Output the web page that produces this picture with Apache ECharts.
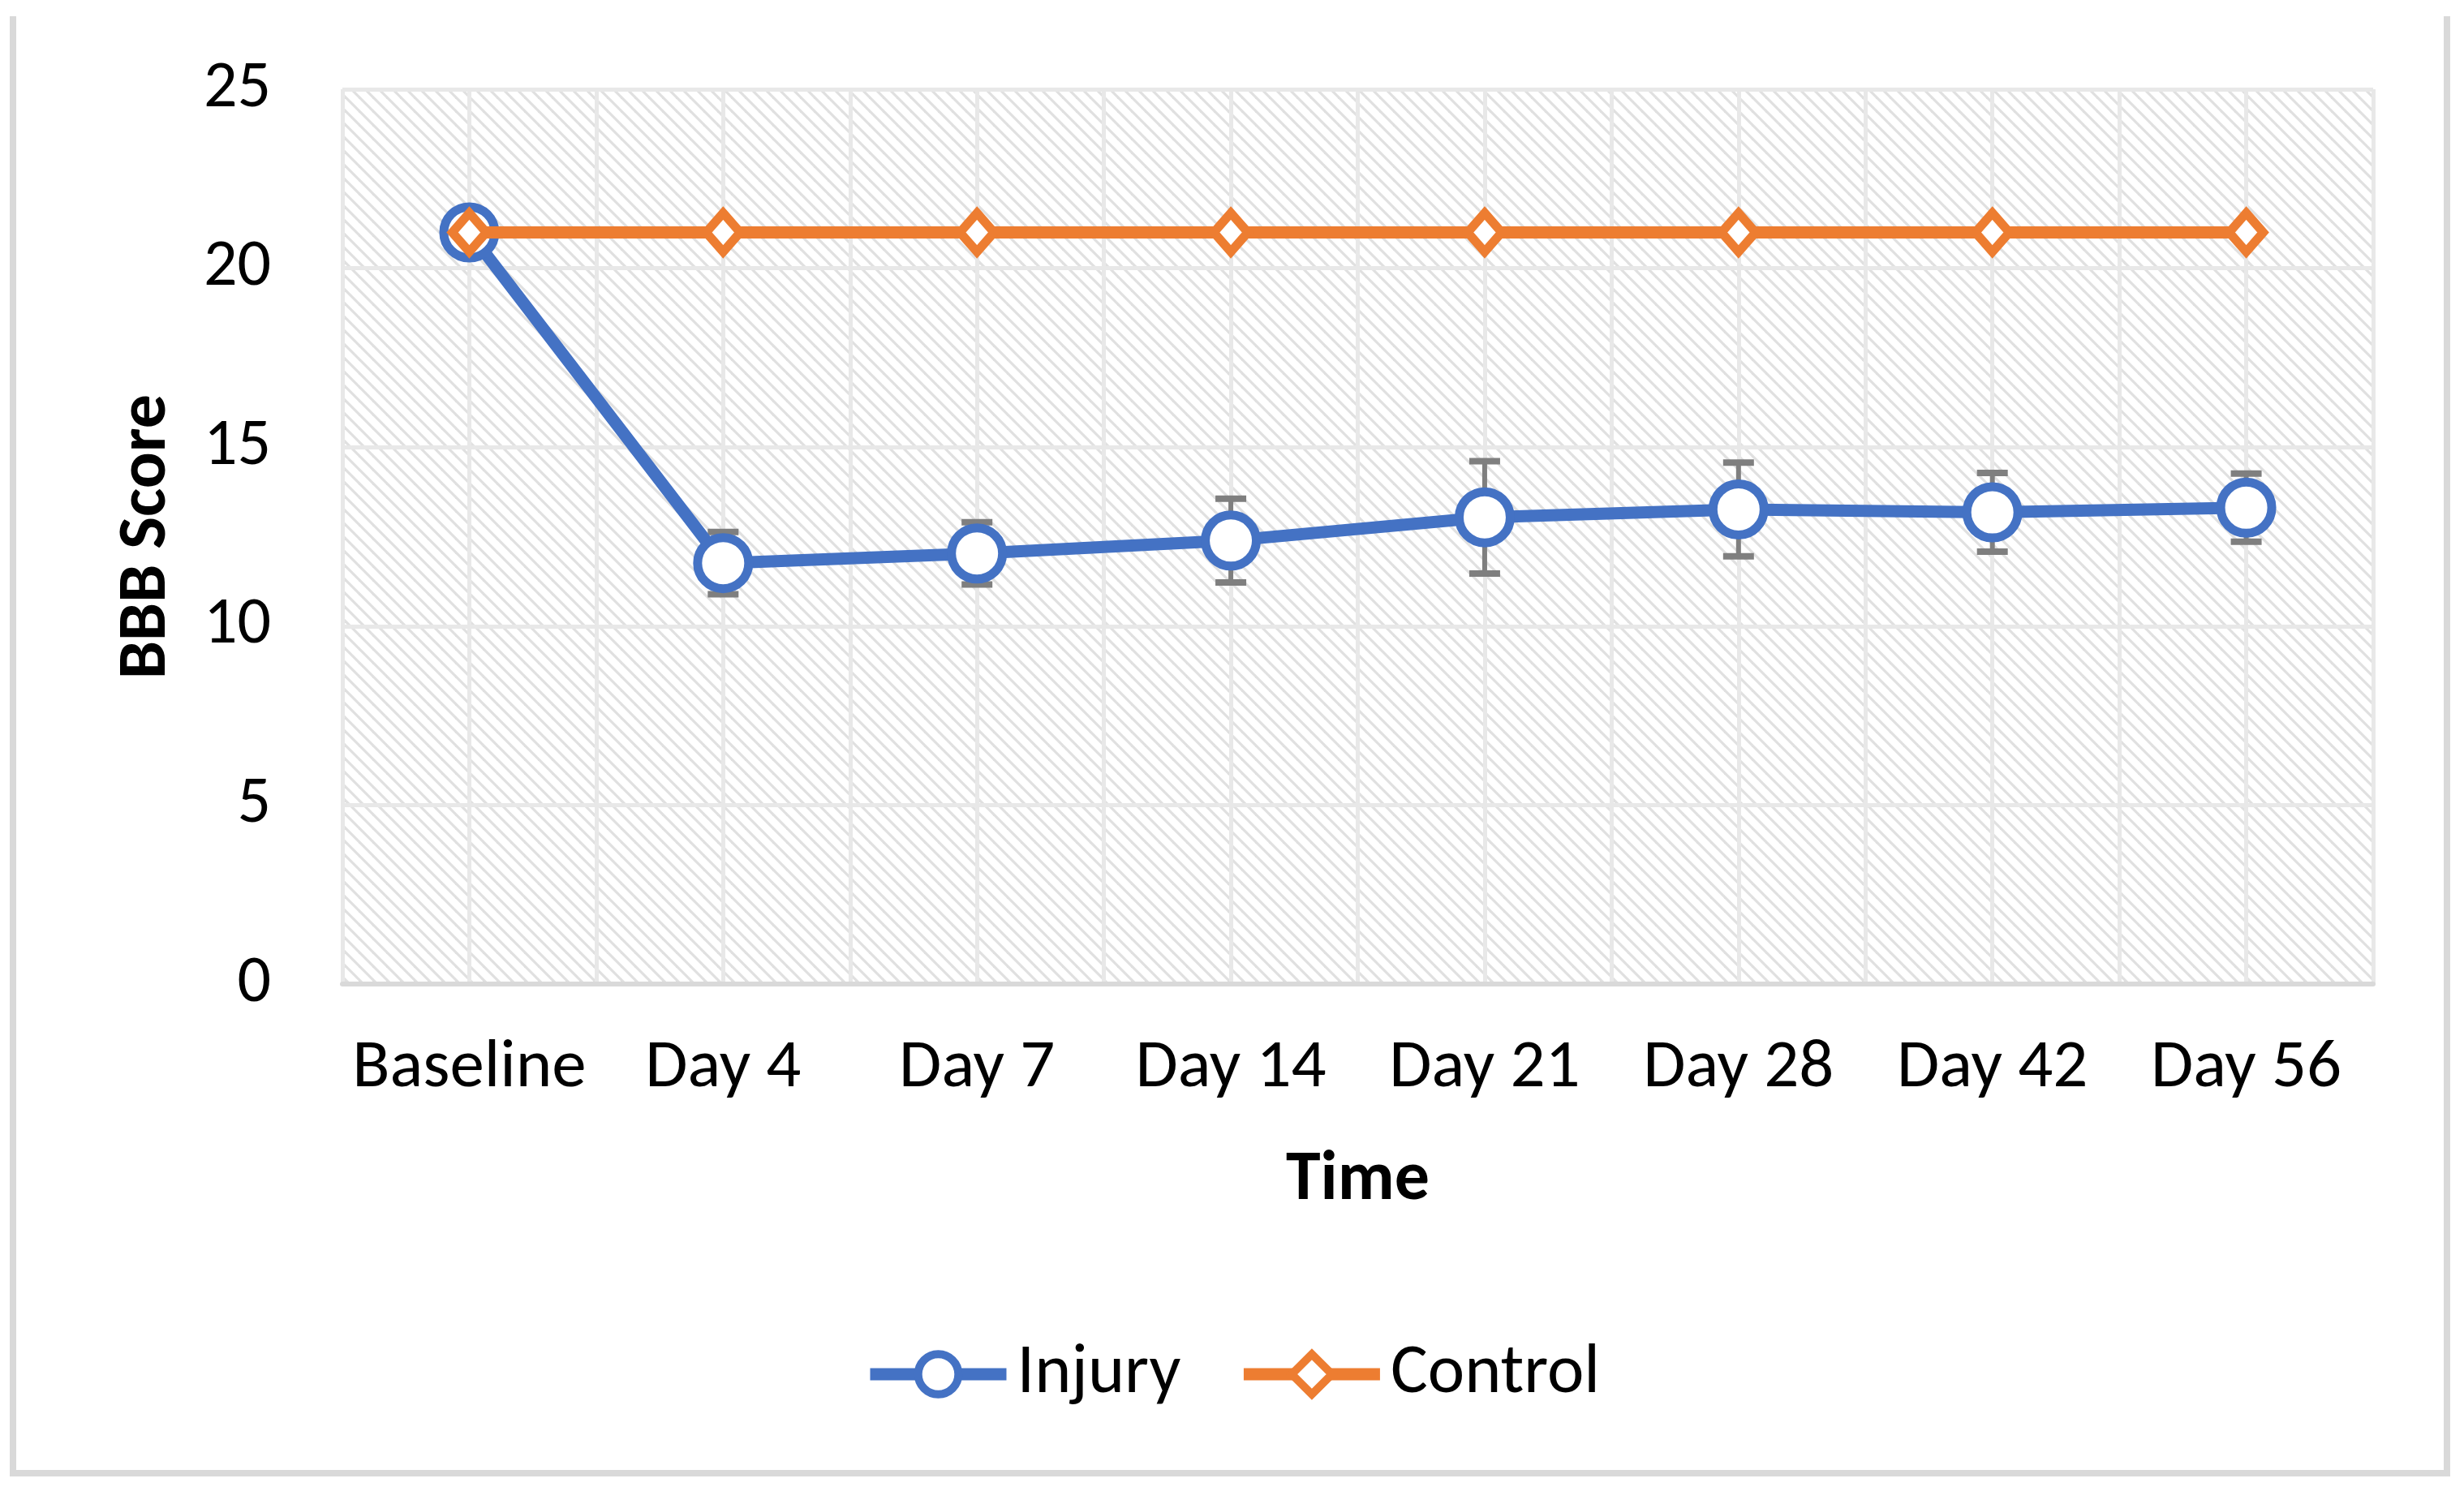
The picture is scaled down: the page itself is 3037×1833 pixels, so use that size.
<!DOCTYPE html>
<html>
<head>
<meta charset="utf-8">
<script src="https://cdn.jsdelivr.net/npm/echarts@6/dist/echarts.min.js"></script>
<style>
html,body{margin:0;padding:0;background:#fff;}
#chart{width:3037px;height:1833px;}
</style>
</head>
<body>
<div id="chart"></div>
<script>
var categories = ['Baseline', 'Day 4', 'Day 7', 'Day 14', 'Day 21', 'Day 28', 'Day 42', 'Day 56'];
var injuryMean = [21, 11.76, 12.03, 12.39, 13.04, 13.26, 13.18, 13.31];
var injuryErr  = [0, 0.87, 0.87, 1.17, 1.57, 1.31, 1.10, 0.95];
var controlMean = [21, 21, 21, 21, 21, 21, 21, 21];
var yTicks = {min: 0, max: 25, interval: 5};

var FONT = 'Carlito, Lato, sans-serif';
var BLUE = '#4472C4', ORANGE = '#ED7D31', GREY = '#7F7F7F';

// hatch pattern for plot area
var T = 17;
var pc = document.createElement('canvas');
pc.width = T; pc.height = T;
var ctx = pc.getContext('2d');
ctx.fillStyle = '#ffffff'; ctx.fillRect(0, 0, T, T);
ctx.strokeStyle = '#e0e0e0'; ctx.lineWidth = 3.2;
for (var k = -1; k <= 1; k++) {
  ctx.beginPath();
  ctx.moveTo(k * T - 3, -3);
  ctx.lineTo(k * T + T + 3, T + 3);
  ctx.stroke();
}

// half-category grid for vertical gridlines
var halfCats = [];
for (var i = 0; i < categories.length * 2; i++) halfCats.push(String(i));

var errData = categories.map(function (c, i) {
  return [i, injuryMean[i] - injuryErr[i], injuryMean[i] + injuryErr[i]];
});

var chart = echarts.init(document.getElementById('chart'), null, {renderer: 'canvas'});
chart.setOption({
  animation: false,
  backgroundColor: '#ffffff',
  textStyle: {fontFamily: FONT, color: '#000'},
  graphic: [{
    type: 'polyline',
    shape: {points: [[16, 20], [16, 1816], [3016, 1816], [3016, 20]]},
    style: {stroke: '#d9d9d9', lineWidth: 8, fill: null},
    silent: true
  }],
  grid: {
    left: 422, top: 110, width: 2503, height: 1103,
    show: true, borderWidth: 0,
    backgroundColor: {image: pc, repeat: 'repeat'}
  },
  legend: {
    left: 'center', top: 1646,
    itemWidth: 168, itemHeight: 62, itemGap: 70,
    data: ['Injury', 'Control'],
    lineStyle: {width: 15},
    itemStyle: {borderWidth: 10},
    textStyle: {fontFamily: FONT, fontSize: 86, color: '#000', padding: [0, 0, 0, 8]}
  },
  xAxis: [{
    type: 'category',
    data: categories,
    boundaryGap: true,
    axisLine: {show: true, lineStyle: {color: '#d9d9d9', width: 6}},
    axisTick: {show: false},
    splitLine: {show: false},
    axisLabel: {fontFamily: FONT, fontSize: 85, color: '#000', margin: 62, interval: 0},
    name: 'Time',
    nameLocation: 'middle',
    nameGap: 200,
    nameTextStyle: {fontFamily: FONT, fontSize: 86, fontWeight: 'bold', color: '#000'},
    z: 5
  }, {
    type: 'category',
    data: halfCats,
    boundaryGap: true,
    position: 'bottom',
    axisLine: {show: false},
    axisTick: {show: false},
    axisLabel: {show: false},
    splitLine: {show: true, interval: 0, lineStyle: {color: '#e8e8e8', width: 5}}
  }],
  yAxis: {
    type: 'value',
    min: yTicks.min, max: yTicks.max, interval: yTicks.interval,
    axisLine: {show: false},
    axisTick: {show: false},
    splitLine: {show: true, lineStyle: {color: '#e8e8e8', width: 5}},
    axisLabel: {fontFamily: FONT, fontSize: 82, color: '#000', margin: 88},
    name: 'BBB Score',
    nameLocation: 'middle',
    nameGap: 198,
    nameRotate: 90,
    nameTextStyle: {fontFamily: FONT, fontSize: 84, fontWeight: 'bold', color: '#000'}
  },
  series: [{
    name: 'errorbar',
    type: 'custom',
    xAxisIndex: 0,
    z: 1,
    silent: true,
    encode: {x: 0, y: [1, 2]},
    data: errData,
    renderItem: function (params, api) {
      var x = api.value(0);
      var lo = api.coord([x, api.value(1)]);
      var hi = api.coord([x, api.value(2)]);
      if (Math.abs(hi[1] - lo[1]) < 1) return {type: 'group', children: []};
      var hw = 19;
      return {
        type: 'group',
        children: [
          {type: 'line', shape: {x1: hi[0], y1: hi[1], x2: lo[0], y2: lo[1]}, style: {stroke: GREY, lineWidth: 6}},
          {type: 'line', shape: {x1: hi[0] - hw, y1: hi[1], x2: hi[0] + hw, y2: hi[1]}, style: {stroke: GREY, lineWidth: 8}},
          {type: 'line', shape: {x1: lo[0] - hw, y1: lo[1], x2: lo[0] + hw, y2: lo[1]}, style: {stroke: GREY, lineWidth: 8}}
        ]
      };
    }
  }, {
    name: 'Injury',
    type: 'line',
    xAxisIndex: 0,
    z: 3,
    data: injuryMean,
    symbol: 'circle',
    symbolSize: 63,
    lineStyle: {color: BLUE, width: 15},
    itemStyle: {color: '#ffffff', borderColor: BLUE, borderWidth: 11}
  }, {
    name: 'Control',
    type: 'line',
    xAxisIndex: 0,
    z: 4,
    data: controlMean,
    symbol: 'diamond',
    symbolSize: [42, 48],
    lineStyle: {color: ORANGE, width: 15},
    itemStyle: {color: '#ffffff', borderColor: ORANGE, borderWidth: 11}
  }]
});
</script>
</body>
</html>
